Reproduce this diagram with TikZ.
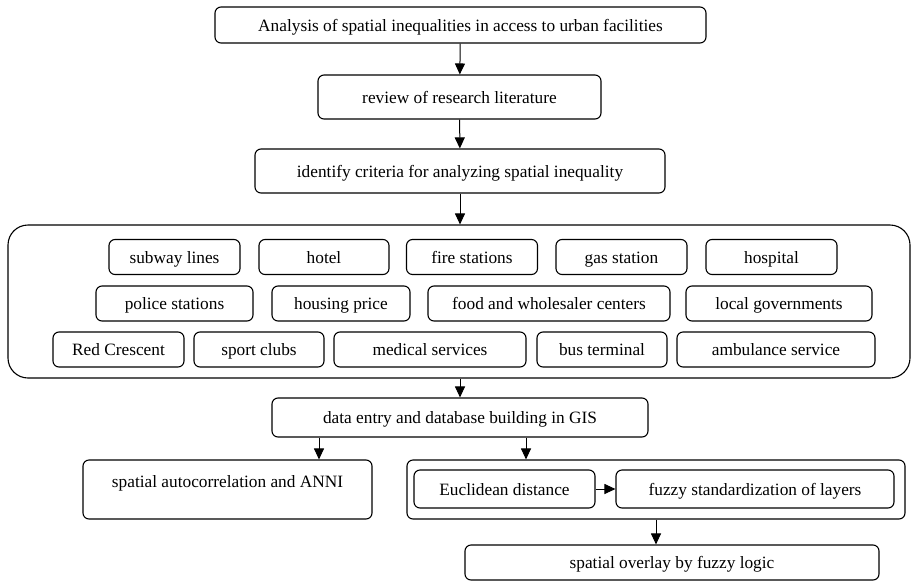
\documentclass[tikz,border=0pt]{standalone}
\usepackage{fontspec}
\setmainfont{Liberation Serif}
\usetikzlibrary{arrows.meta}

\tikzset{
    box/.style={draw, rounded corners=6pt, line width=1.1pt, inner sep=0pt, align=center,
        text height=14pt, text depth=2pt},
    item/.style={box, minimum height=35pt},
    arrow/.style={line width=1pt, -{Triangle[length=11pt, width=10pt]}}
}

\begin{document}
\begin{tikzpicture}[x=1pt, y=-1pt, font=\fontsize{17.3}{20}\selectfont]
    \useasboundingbox (0,0) rectangle (911,582);

    % main steps
    \path
    (460.5, 25) node[box, minimum width=491pt, minimum height=36pt] (analysis) {Analysis of spatial inequalities in access to urban facilities}
    (459.5, 97) node[box, minimum width=283pt, minimum height=44pt] (review) {review of research literature}
    (460, 171) node[box, minimum width=410pt, minimum height=44pt] (criteria) {identify criteria for analyzing spatial inequality}
    (459, 301.5) node[box, rounded corners=20pt, minimum width=902pt, minimum height=153pt] (layers) {}
    ;

    % criteria, row 1
    \path
    (174.5, 257) node[item, minimum width=131pt] (subway) {subway lines}
    (324, 257) node[item, minimum width=130pt] (hotel) {hotel}
    (472, 257) node[item, minimum width=131pt] (fire) {fire stations}
    (621.5, 257) node[item, minimum width=131pt] (gas) {gas station}
    (771.5, 257) node[item, minimum width=131pt] (hospital) {hospital}
    ;

    % criteria, row 2
    \path
    (174.5, 303.5) node[item, minimum width=157pt] (police) {police stations}
    (341, 303.5) node[item, minimum width=138pt] (housing) {housing price}
    (549, 303.5) node[item, minimum width=242pt] (food) {food and wholesaler centers}
    (779, 303.5) node[item, minimum width=186pt] (local) {local governments}
    ;

    % criteria, row 3
    \path
    (118.5, 349.5) node[item, minimum width=131pt] (red) {Red Crescent}
    (259, 349.5) node[item, minimum width=130pt] (sport) {sport clubs}
    (430, 349.5) node[item, minimum width=192pt] (medical) {medical services}
    (602, 349.5) node[item, minimum width=130pt] (bus) {bus terminal}
    (776, 349.5) node[item, minimum width=198pt] (ambulance) {ambulance service}
    ;

    % analysis steps
    \path
    (460, 417.5) node[box, minimum width=376pt, minimum height=39pt] (gis) {data entry and database building in GIS}
    (227.5, 489.5) node[box, minimum width=289pt, minimum height=59pt, text height=6pt, text depth=10pt] (autocorr) {spatial autocorrelation and ANNI}
    (656, 489.5) node[box, minimum width=498pt, minimum height=59pt] (fuzzybox) {}
    (504.5, 489) node[box, minimum width=181pt, minimum height=38pt] (euclid) {Euclidean distance}
    (755, 489) node[box, minimum width=278pt, minimum height=38pt] (fuzzy) {fuzzy standardization of layers}
    (672, 562.5) node[box, minimum width=414pt, minimum height=35pt] (overlay) {spatial overlay by fuzzy logic}
    ;
    \coordinate (leftx) at (319, 0);
    \coordinate (rightx) at (526, 0);

    % arrows
    \draw[arrow] (analysis) -- (review);
    \draw[arrow] (review) -- (criteria);
    \draw[arrow] (criteria) -- (criteria.south |- layers.north);
    \draw[arrow] (layers.south -| gis.north) -- (gis);
    \draw[arrow] (gis.south -| leftx) -- (autocorr.north -| leftx);
    \draw[arrow] (gis.south -| rightx) -- (fuzzybox.north -| rightx);
    \draw[arrow] (euclid) -- (fuzzy);
    \draw[arrow] (fuzzybox.south) -- (overlay.north -| fuzzybox.south);

\end{tikzpicture}
\end{document}
